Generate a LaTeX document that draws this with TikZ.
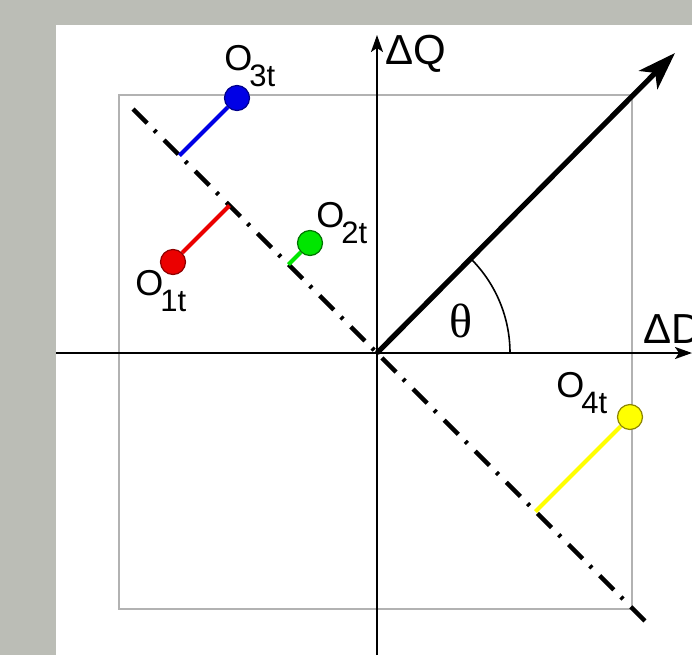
\documentclass[tikz,border=0pt]{standalone}
\usepackage{fontspec}
\setmainfont{Liberation Sans}
\newfontfamily\thetafont{Liberation Serif}
\usetikzlibrary{arrows.meta}

\definecolor{bggray}{RGB}{187,189,182}
\definecolor{boxgray}{RGB}{178,178,178}
\definecolor{ptblue}{RGB}{0,0,230}
\definecolor{ptred}{RGB}{235,0,0}
\definecolor{ptgreen}{RGB}{0,230,0}
\definecolor{ptyellow}{RGB}{255,255,0}

% label O with a tucked-in subscript
\newcommand{\olab}[1]{O\kern-1.5pt\lower8pt\hbox{\fontsize{15.5}{16}\selectfont #1}}

\begin{document}
\begin{tikzpicture}[x=0.5pt, y=0.5pt,
  lbl/.style={font=\fontsize{18}{20}\selectfont, inner sep=0pt, anchor=base west},
  axlbl/.style={font=\fontsize{21}{24}\selectfont, inner sep=0pt, anchor=base west},
  axis/.style={line width=1pt, -{Stealth[length=8.5pt, width=6pt, inset=2pt]}},
  proj/.style={line width=2pt},
  pt/.style={circle, minimum size=12.5pt, inner sep=0pt, line width=0.6pt}]
  % background and frame
  \useasboundingbox (-377,-302) rectangle (315,353);
  \fill[bggray] (-377,-302) rectangle (315,353);
  \fill[white] (-321,-302) rectangle (315,328);
  \draw[boxgray, line width=1.1pt] (-258,-256) rectangle (255,258);
  % dash-dot line
  \coordinate (dl) at (-244,244);
  \coordinate (dr) at (272,-272);
  \draw[line width=2.2pt, dash pattern=on 10pt off 5pt on 1.5pt off 5.5pt] (dl) -- (dr);
  % axes
  \coordinate (O) at (0,0);
  \coordinate (xl) at (-321,0);
  \coordinate (xr) at (315,0);
  \coordinate (yb) at (0,-302);
  \coordinate (yt) at (0,318);
  \draw[axis] (xl) -- (xr);
  \draw[axis] (yb) -- (yt);
  \node[axlbl] (dq) at (8,289) {ΔQ};
  \node[axlbl] (dd) at (266,10) {ΔD};
  % direction and angle
  \coordinate (v) at (298,300);
  \draw[line width=2.6pt, -{Stealth[length=19pt, width=13pt, inset=5pt]}] (O) -- (v);
  \draw[line width=0.8pt] (133,0) arc[start angle=0, end angle=45, radius=133];
  \node[font=\thetafont\fontsize{24}{26}\selectfont, inner sep=0pt] (th) at (84,32) {θ};
  % points and projections
  \coordinate (f3) at (-197.5,197.5);
  \coordinate (f1) at (-147.5,147.5);
  \coordinate (f2) at (-88.5,88.5);
  \coordinate (f4) at (158.5,-158.5);
  \node[pt, draw=ptblue!60!black, fill=ptblue] (o3) at (-140,255) {};
  \node[pt, draw=ptred!60!black, fill=ptred] (o1) at (-204,91) {};
  \node[pt, draw=ptgreen!50!black, fill=ptgreen] (o2) at (-67,110) {};
  \node[pt, draw=olive, fill=ptyellow] (o4) at (253,-64) {};
  \draw[proj, ptblue] (f3) -- (o3);
  \draw[proj, ptred] (f1) -- (o1);
  \draw[proj, ptgreen] (f2) -- (o2);
  \draw[proj, ptyellow] (f4) -- (o4);
  \node[lbl] (l3) at (-153,283) {\olab{3t}};
  \node[lbl] (l1) at (-242,58) {\olab{1t}};
  \node[lbl] (l2) at (-61,126) {\olab{2t}};
  \node[lbl] (l4) at (179,-44) {\olab{4t}};
\end{tikzpicture}
\end{document}
